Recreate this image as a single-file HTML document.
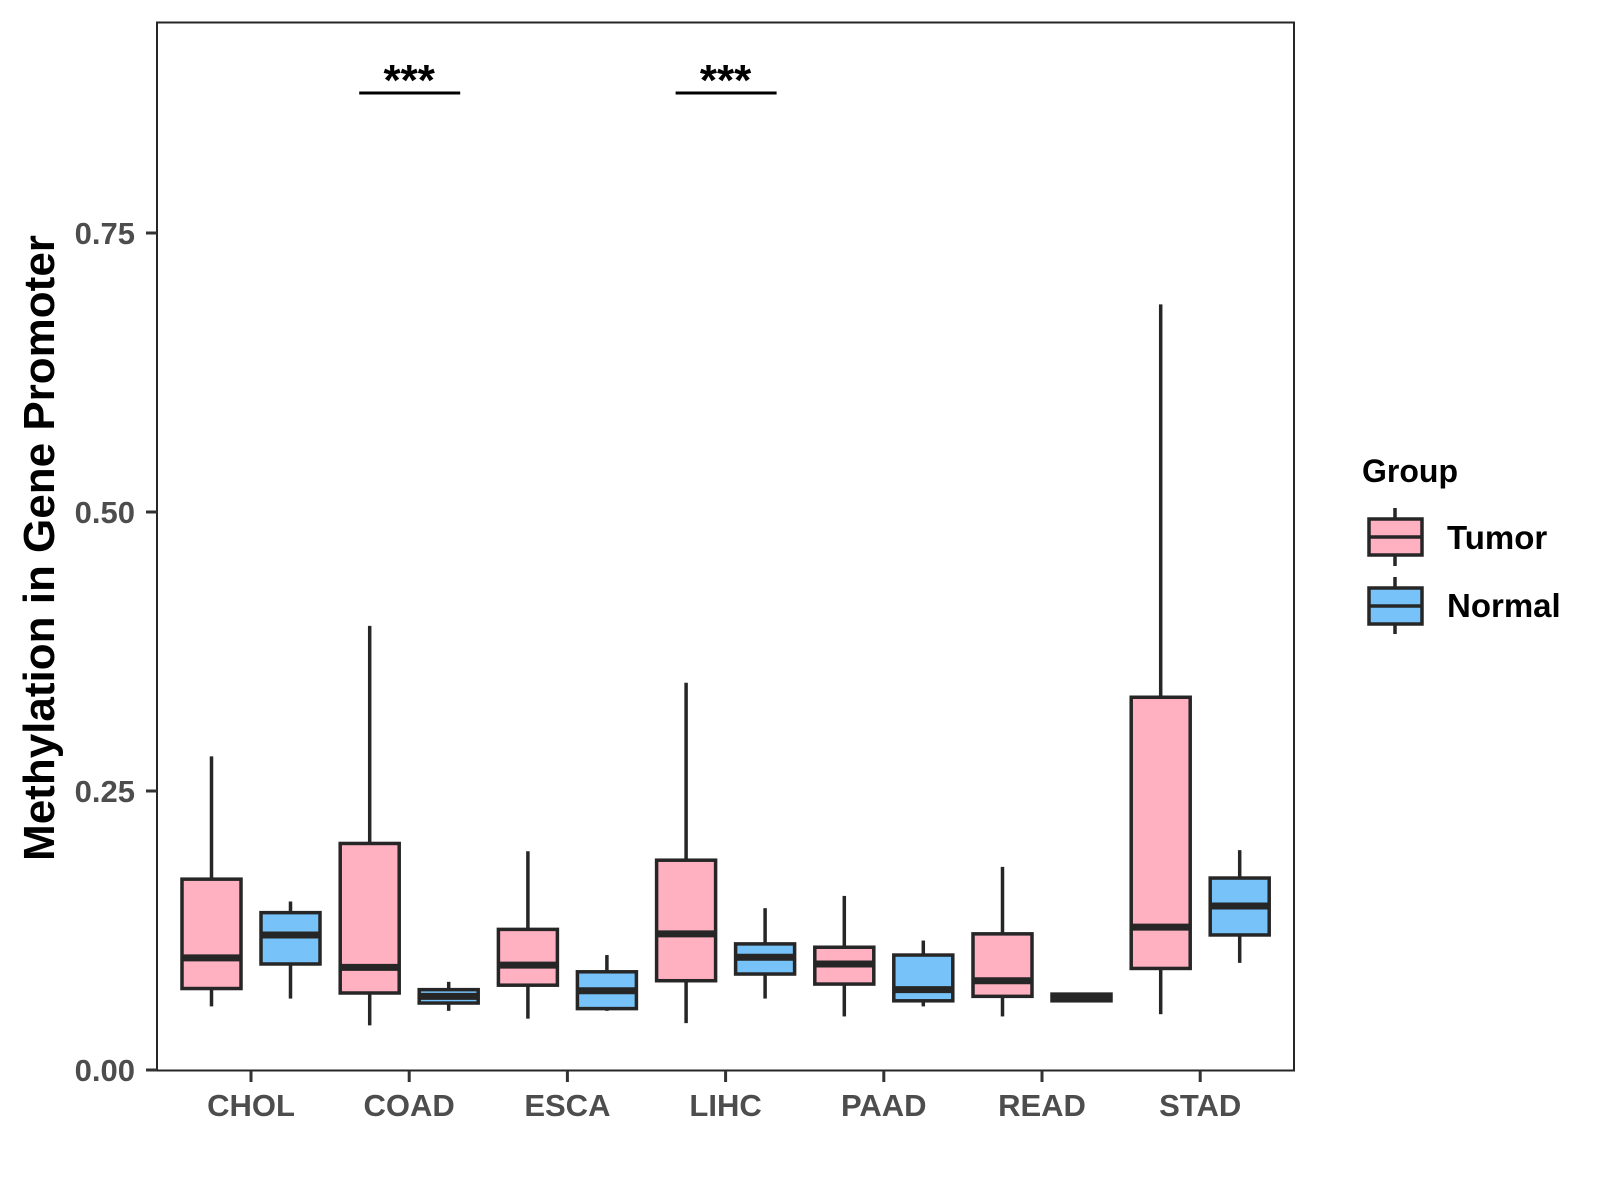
<!DOCTYPE html>
<html><head><meta charset="utf-8"><style>
html,body{margin:0;padding:0;background:#fff;}
svg{display:block;font-family:"Liberation Sans",Arial,sans-serif;}
</style></head><body>
<svg id="chart" width="1600" height="1200" viewBox="0 0 1600 1200">
<rect x="157" y="22.5" width="1137" height="1048" fill="#fff" stroke="#262626" stroke-width="2"/>
<g id="marks"></g>
<g id="axes"></g>
<text transform="translate(54,548) rotate(-90)" text-anchor="middle" font-size="44" font-weight="bold" fill="#000">Methylation in Gene Promoter</text>
<g>
<text x="1362" y="482" font-size="32" font-weight="bold" fill="#000">Group</text>
<g>
<line x1="1395" y1="508" x2="1395" y2="566" stroke="#262626" stroke-width="3.5"/>
<rect x="1369" y="519" width="53" height="36" fill="#FFB0C1" stroke="#262626" stroke-width="3.5"/>
<line x1="1369" y1="537" x2="1422" y2="537" stroke="#262626" stroke-width="3.5"/>
<text x="1447" y="549" font-size="33" font-weight="bold" fill="#000">Tumor</text>
</g>
<g>
<line x1="1395" y1="577" x2="1395" y2="634" stroke="#262626" stroke-width="3.5"/>
<rect x="1369" y="588" width="53" height="36" fill="#77C2F8" stroke="#262626" stroke-width="3.5"/>
<line x1="1369" y1="606" x2="1422" y2="606" stroke="#262626" stroke-width="3.5"/>
<text x="1447" y="617" font-size="33" font-weight="bold" fill="#000">Normal</text>
</g>
</g>
</svg>
<script>
const categories = ["CHOL","COAD","ESCA","LIHC","PAAD","READ","STAD"];
const yTicks = [0, 0.25, 0.5, 0.75];
const yTickLabels = ["0.00","0.25","0.50","0.75"];
// [lower whisker, q1, median, q3, upper whisker]
const tumorStats = [
 [0.057,0.073,0.1005,0.171,0.281],
 [0.040,0.069,0.092,0.203,0.398],
 [0.046,0.076,0.094,0.126,0.196],
 [0.042,0.080,0.122,0.188,0.347],
 [0.048,0.077,0.095,0.110,0.156],
 [0.048,0.066,0.080,0.122,0.182],
 [0.050,0.091,0.128,0.334,0.686]
];
const normalStats = [
 [0.064,0.095,0.121,0.141,0.151],
 [0.053,0.060,0.066,0.072,0.079],
 [0.053,0.055,0.071,0.088,0.103],
 [0.064,0.086,0.101,0.113,0.145],
 [0.057,0.062,0.072,0.103,0.116],
 [0.064,0.062,0.065,0.068,0.067],
 [0.096,0.121,0.147,0.172,0.197]
];
const sigCategories = ["COAD","LIHC"];
const sigLabels = ["***","***"];
const sigLevel = 0.8755;

const NS="http://www.w3.org/2000/svg";
const X0=251, XSTEP=158.2, Y0=1070, YSCALE=1116, OFF=39.5, BW=59;
function xPos(i){return X0+i*XSTEP;}
function yPos(v){return Y0-v*YSCALE;}
function mk(tag,attrs,parent){const e=document.createElementNS(NS,tag);for(const k in attrs)e.setAttribute(k,attrs[k]);parent.appendChild(e);return e;}
const marks=document.getElementById('marks'), axes=document.getElementById('axes');
function drawBox(s,cx,fill,name){
  const g=mk('g',{},marks);
  
  
  mk('line',{x1:cx,x2:cx,y1:yPos(s[4]),y2:yPos(s[3]),stroke:'#262626','stroke-width':3.5},g);
  mk('line',{x1:cx,x2:cx,y1:yPos(s[1]),y2:yPos(s[0]),stroke:'#262626','stroke-width':3.5},g);
  const top=Math.min(yPos(s[3]),yPos(s[1])), h=Math.max(Math.abs(yPos(s[1])-yPos(s[3])),2);
  mk('rect',{x:cx-BW/2,y:top,width:BW,height:h,fill:fill,stroke:'#262626','stroke-width':3.5},g);
  mk('line',{x1:cx-BW/2,x2:cx+BW/2,y1:yPos(s[2]),y2:yPos(s[2]),stroke:'#262626','stroke-width':7},g);
}
categories.forEach((c,i)=>{
  drawBox(tumorStats[i],xPos(i)-OFF,'#FFB0C1','box-tumor-'+c.toLowerCase());
  drawBox(normalStats[i],xPos(i)+OFF,'#77C2F8','box-normal-'+c.toLowerCase());
  const t=mk('line',{x1:xPos(i),x2:xPos(i),y1:1071,y2:1082,stroke:'#333','stroke-width':3},axes);
  
  
  const l=mk('text',{x:xPos(i),y:1116,'text-anchor':'middle','font-size':31,'font-weight':'bold',fill:'#4d4d4d'},axes);
  
  
  l.textContent=c;
});
yTicks.forEach((v,i)=>{
  const t=mk('line',{x1:146,x2:157,y1:yPos(v),y2:yPos(v),stroke:'#333','stroke-width':3},axes);
  
  
  const l=mk('text',{x:135,y:yPos(v)+11,'text-anchor':'end','font-size':31,'font-weight':'bold',fill:'#4d4d4d'},axes);
  
  
  l.textContent=yTickLabels[i];
});
sigCategories.forEach((c,k)=>{
  const i=categories.indexOf(c);
  const g=mk('g',{},marks);
  
  
  mk('line',{x1:xPos(i)-50,x2:xPos(i)+51,y1:yPos(sigLevel),y2:yPos(sigLevel),stroke:'#000','stroke-width':3},g);
  const t=mk('text',{x:xPos(i),y:yPos(sigLevel)+2,'text-anchor':'middle','font-size':44,'font-weight':'bold',fill:'#000'},g);
  t.textContent=sigLabels[k];
});
</script>
</body></html>
